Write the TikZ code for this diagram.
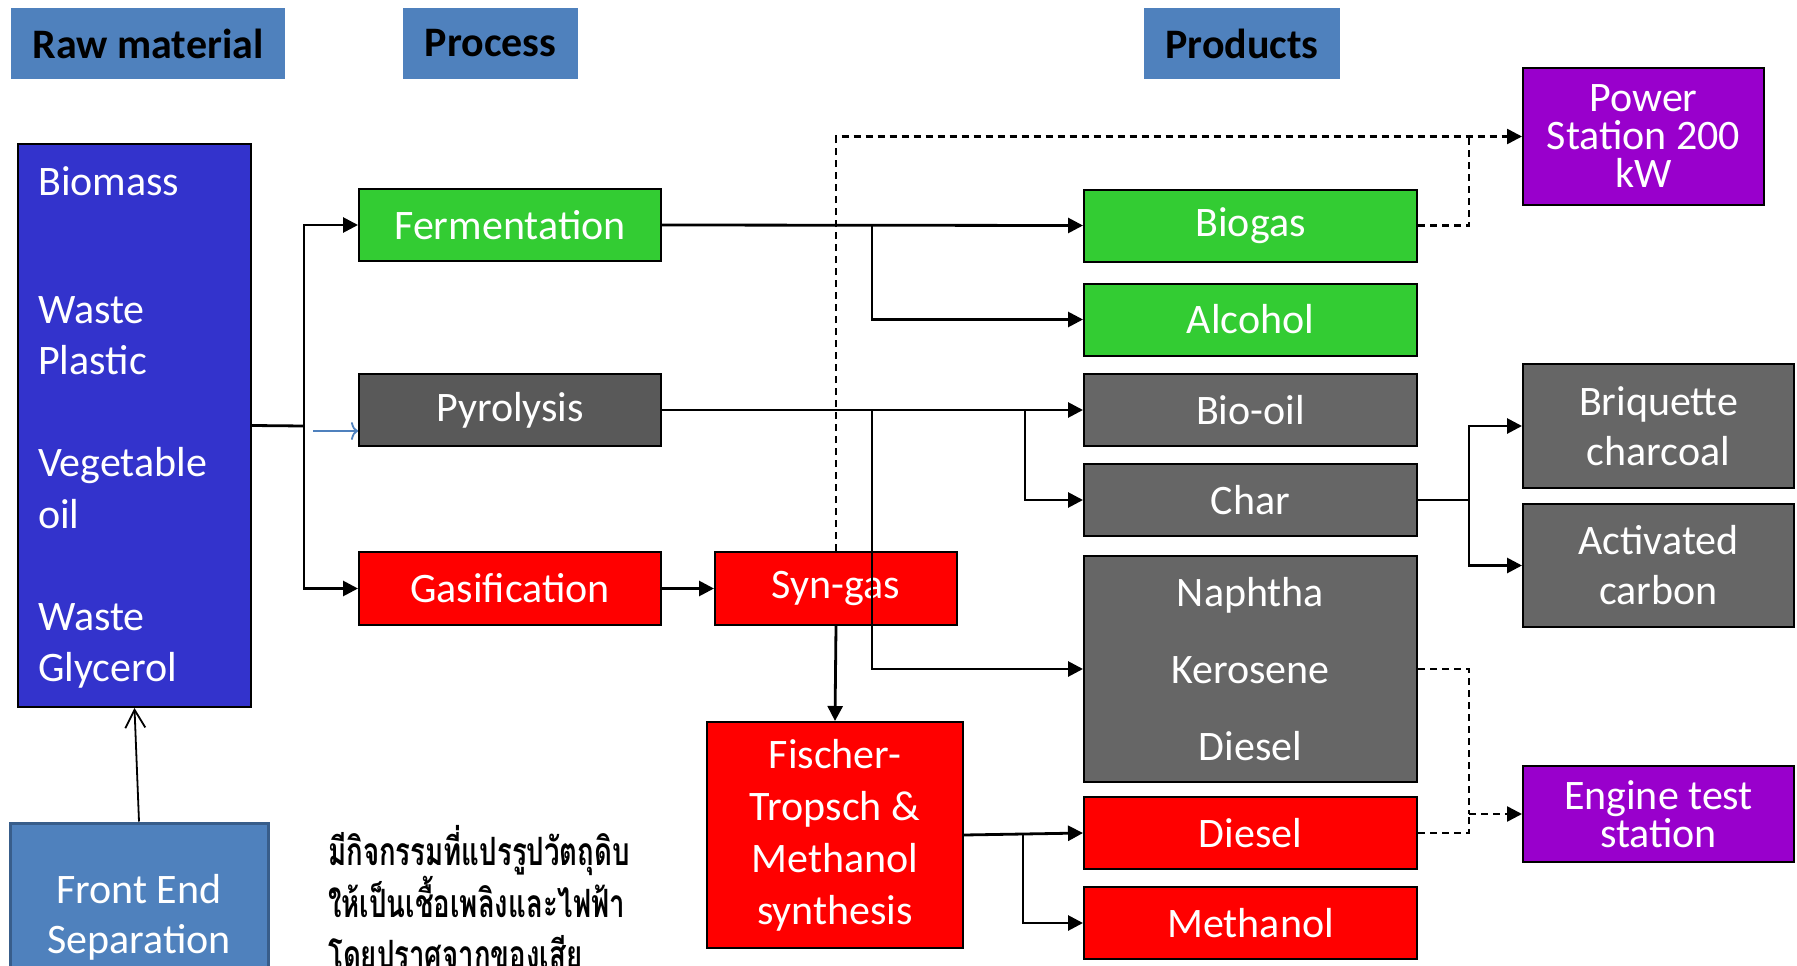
\documentclass[tikz,border=0pt]{standalone}
\usepackage{fontspec}
\usepackage{graphicx}
\setmainfont{Carlito}
\newfontfamily\thaifont[Script=Thai]{Loma}
\usetikzlibrary{arrows.meta}
\definecolor{hdrblue}{HTML}{4F81BD}
\definecolor{hdrline}{HTML}{385D8A}
\definecolor{rawblue}{HTML}{3333CC}
\definecolor{fgreen}{HTML}{33CC33}
\definecolor{pgray}{HTML}{595959}
\definecolor{dgray}{HTML}{666666}
\definecolor{fred}{HTML}{FF0000}
\definecolor{fpurple}{HTML}{9900CC}
\tikzset{
  sz/.style 2 args={minimum width=#1,minimum height=#2},
  hdr/.style={fill=hdrblue,text=black,inner sep=0pt,font=\bfseries\fontsize{42}{50}\selectfont},
  blk/.style={draw=black,line width=2pt,text=white,align=center,inner sep=2pt,font=\fontsize{42}{50}\selectfont},
  grn/.style={blk,fill=fgreen},
  gry/.style={blk,fill=dgray},
  rd/.style={blk,fill=fred},
  prp/.style={blk,fill=fpurple},
  rawtxt/.style={anchor=base west,text=white,inner sep=0pt,font=\fontsize{42}{50}\selectfont},
  thaitxt/.style={anchor=base west,text=black,inner sep=0pt,font=\thaifont\bfseries\fontsize{30}{47}\selectfont},
  link/.style={line width=2.8pt},
  flow/.style={link,-{Triangle[length=15pt,width=15pt]}},
  dline/.style={line width=2.5pt,dash pattern=on 7pt off 5pt},
  dflow/.style={dline,-{Triangle[length=15pt,width=15pt]}},
}
\begin{document}
\begin{tikzpicture}[x=1pt,y=-1pt,line join=miter]
\useasboundingbox (0,0) rectangle (1797,966);
% headers
\node[hdr,sz={274}{71}] (rawhead) at (148,43.5) {Raw material};
\node[hdr,sz={175}{71}] (prochead) at (490.5,43.5) {Process};
\node[hdr,sz={196}{71}] (prodhead) at (1242,43.5) {Products};
% raw material
\node[blk,fill=rawblue,sz={233}{563}] (raw) at (134.5,425.5) {};
\foreach \txt/\yy [count=\i] in {Biomass/195,Waste/323,Plastic/374,Vegetable/476,oil/528,Waste/630,Glycerol/681}
  \node[rawtxt] (rawitem\i) at (38,\yy) {\txt};
\node[blk,fill=hdrblue,draw=hdrline,line width=3pt,sz={258}{188}] (front) at (139,917) {Front End\\Separation};
% processes
\node[grn,sz={302}{72}] (ferm) at (510,225) {Fermentation};
\node[blk,fill=pgray,sz={302}{72}] (pyro) at (510,410) {Pyrolysis};
\node[rd,sz={302}{73}] (gasi) at (510,588.5) {Gasification};
\node[rd,sz={242}{73}] (syngas) at (836,588.5) {Syn-gas};
\node[rd,sz={256}{226},font=\fontsize{42}{52}\selectfont] (fischer) at (835,835) {Fischer-\\Tropsch \&\\Methanol\\synthesis};
% products
\node[grn,sz={333}{72}] (biogas) at (1250.5,225.5) {Biogas};
\node[grn,sz={333}{72}] (alcohol) at (1250.5,319.5) {Alcohol};
\node[gry,sz={333}{72}] (biooil) at (1250.5,410) {Bio-oil};
\node[gry,sz={333}{72}] (char) at (1250.5,500) {Char};
\node[gry,sz={333}{226},font=\fontsize{42}{77}\selectfont] (nkd) at (1250.5,669) {Naphtha\\Kerosene\\Diesel};
\node[rd,sz={333}{72}] (diesel) at (1250.5,833) {Diesel};
\node[rd,sz={333}{72}] (methanol) at (1250.5,923) {Methanol};
\node[prp,sz={241}{137},font=\fontsize{42}{38}\selectfont] (power) at (1643.5,136.5) {Power\\Station 200\\kW};
\node[gry,sz={271}{124}] (briq) at (1658.5,426) {Briquette\\charcoal};
\node[gry,sz={271}{123}] (activ) at (1658.5,565.5) {Activated\\carbon};
\node[prp,sz={271}{96},font=\fontsize{42}{38}\selectfont] (engine) at (1658.5,814) {Engine test\\station};
% thai note
\foreach \txt/\yy [count=\i] in {มีกิจกรรมที่แปรรูปวัตถุดิบ/865,ให้เป็นเชื้อเพลิงและไฟฟ้า/917,โดยปราศจากของเสีย/968}
  \node[thaitxt] (note\i) at (328,\yy) {\scalebox{0.92}[1.3]{\txt}};
% connectors
\coordinate (trunk) at (304,426);
\draw[link] (raw.east) -- (trunk);
\draw[flow] (trunk) |- (ferm.west);
\draw[flow] (trunk) |- (gasi.west);
\coordinate (bluestart) at (313,431);
\draw[hdrblue,line width=1.8pt,-{To[length=7pt,width=18pt]}] (bluestart) -- (bluestart -| pyro.west);
\draw[line width=1.8pt,-{Straight Barb[length=18pt,width=20pt]}] (front.north) -- (raw.south);
\coordinate (fsplit) at (872,225);
\draw[flow] (ferm.east) -- (biogas.west);
\draw[flow] (fsplit) |- (alcohol.west);
\coordinate (psplit) at (872,410);
\coordinate (bsplit) at (1025,410);
\draw[flow] (pyro.east) -- (biooil.west);
\draw[flow] (psplit) |- (nkd.west);
\draw[flow] (bsplit) |- (char.west);
\draw[flow] (gasi) -- (syngas);
\draw[flow] (syngas.south) -- (fischer.north);
\coordinate (dsplit) at (1023,833);
\draw[flow] (fischer.east) -- (diesel.west);
\draw[flow] (dsplit) |- (methanol.west);
\coordinate (csplit) at (1469,500);
\draw[link] (char.east) -- (csplit);
\draw[flow] (csplit) |- (briq.west);
\draw[flow] (csplit) |- (activ.west);
% dashed links
\draw[dflow] (syngas.north) |- (power.west);
\coordinate (psjoin) at (1469,136.5);
\draw[dline] (biogas.east) -| (psjoin);
\coordinate (etjoin) at (1469,814);
\draw[dline] (nkd.east) -| (etjoin);
\draw[dline] (diesel.east) -| (etjoin);
\draw[dflow] (etjoin) -- (engine.west);
\end{tikzpicture}
\end{document}
